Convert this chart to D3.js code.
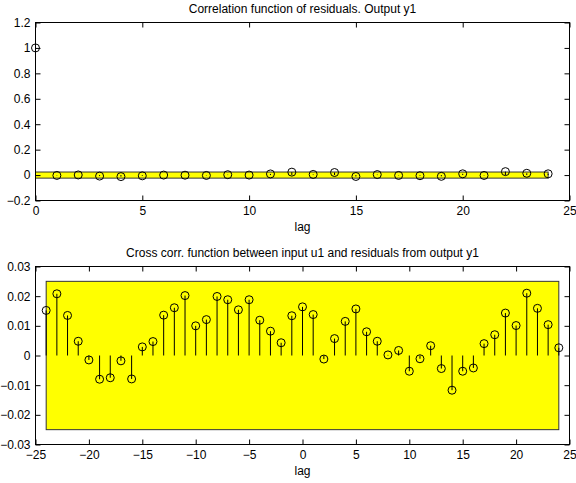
<!doctype html>
<html>
<head>
<meta charset="UTF-8">
<title>residual correlation</title>
<script src="https://cdn.jsdelivr.net/npm/d3@7"></script>
<style>
	body { margin: 0; background: #fff; }
	text { font-family: "Liberation Sans", Arial, sans-serif; font-size: 12px; fill: #000; }
</style>
</head>
<body>
<script>
	// autocorrelation of residuals, lags 0..24
	var autoLags = d3.range(0, 25);
	var autoValues = [1.0, -0.003, 0.001, -0.008, -0.012, -0.006, 0.000, -0.001, -0.003, 0.003,
		0.000, 0.009, 0.023, 0.005, 0.020, -0.011, 0.004, -0.003, -0.005, -0.010,
		0.010, -0.003, 0.027, 0.014, 0.010];
	var autoConf = 0.024;

	// cross correlation input u1 / residuals, lags -24..24
	var crossLags = d3.range(-24, 25);
	var crossValues = [0.0152, 0.0208, 0.0135, 0.0048, -0.0015, -0.0080, -0.0075, -0.0018, -0.0079, 0.0029,
		0.0047, 0.0136, 0.0161, 0.0202, 0.0100, 0.0121, 0.0199, 0.0188, 0.0154, 0.0188,
		0.0119, 0.0082, 0.0043, 0.0134, 0.0164, 0.0138, -0.0012, 0.0057, 0.0115, 0.0157,
		0.0080, 0.0048, 0.0002, 0.0017, -0.0053, -0.0011, 0.0033, -0.0044, -0.0117, -0.0053,
		-0.0042, 0.0040, 0.0070, 0.0143, 0.0101, 0.0210, 0.0159, 0.0104, 0.0026];
	var crossConf = 0.025;

	var autoTicksX = [0, 5, 10, 15, 20, 25];
	var autoTicksY = [-0.2, 0, 0.2, 0.4, 0.6, 0.8, 1, 1.2];
	var crossTicksX = [-25, -20, -15, -10, -5, 0, 5, 10, 15, 20, 25];
	var crossTicksY = [-0.03, -0.02, -0.01, 0, 0.01, 0.02, 0.03];

	var W = 576, H = 483;
	var svg = d3.select('body').append('svg')
		.attr('width', W)
		.attr('height', H);

	var fmt = function(d) {
		var s = String(+d.toFixed(3));
		return s.replace('-', '\u2212');
	};

	/**
	* draw one stem panel
	*/
	var drawPanel = function(opt) {
		var x = d3.scaleLinear().domain(opt.xDomain).range([opt.left, opt.right]);
		var y = d3.scaleLinear().domain(opt.yDomain).range([opt.bottom, opt.top]);
		var g = svg.append('g');

		// confidence band
		g.append('rect')
			.attr('x', x(opt.bandFrom))
			.attr('y', y(opt.conf))
			.attr('width', x(opt.bandTo) - x(opt.bandFrom))
			.attr('height', y(-opt.conf) - y(opt.conf))
			.attr('fill', '#ffff00')
			.attr('stroke', '#333')
			.attr('stroke-width', 1);

		// stems
		g.selectAll('line.stem')
			.data(opt.lags)
			.enter()
			.append('line')
			.attr('class', 'stem')
			.attr('x1', function(d) { return x(d); })
			.attr('x2', function(d) { return x(d); })
			.attr('y1', y(0))
			.attr('y2', function(d, i) { return y(opt.values[i]); })
			.attr('stroke', '#000')
			.attr('stroke-width', 1);

		g.selectAll('circle')
			.data(opt.lags)
			.enter()
			.append('circle')
			.attr('cx', function(d) { return x(d); })
			.attr('cy', function(d, i) { return y(opt.values[i]); })
			.attr('r', 4)
			.attr('fill', 'none')
			.attr('stroke', '#000')
			.attr('stroke-width', 1);

		// axes, ticks inside, on all four sides
		var tl = -5;
		g.append('g')
			.attr('transform', 'translate(0,' + opt.bottom + ')')
			.call(d3.axisBottom(x).tickValues(opt.xTicks).tickSize(tl).tickPadding(6).tickFormat(fmt));
		g.append('g')
			.attr('transform', 'translate(0,' + opt.top + ')')
			.call(d3.axisTop(x).tickValues(opt.xTicks).tickSize(tl).tickFormat(''));
		g.append('g')
			.attr('transform', 'translate(' + opt.left + ',0)')
			.call(d3.axisLeft(y).tickValues(opt.yTicks).tickSize(tl).tickPadding(5).tickFormat(fmt));
		g.append('g')
			.attr('transform', 'translate(' + opt.right + ',0)')
			.call(d3.axisRight(y).tickValues(opt.yTicks).tickSize(tl).tickFormat(''));

		g.selectAll('.domain').remove();
		g.selectAll('.tick line').attr('stroke', '#000');
		g.selectAll('.tick text').style('font-size', '12px').attr('fill', '#000');

		g.append('rect')
			.attr('x', opt.left)
			.attr('y', opt.top)
			.attr('width', opt.right - opt.left)
			.attr('height', opt.bottom - opt.top)
			.attr('fill', 'none')
			.attr('stroke', '#000')
			.attr('stroke-width', 1);

		g.append('text')
			.attr('x', (opt.left + opt.right) / 2)
			.attr('y', opt.top - 9.5)
			.attr('text-anchor', 'middle')
			.text(opt.title);

		g.append('text')
			.attr('x', (opt.left + opt.right) / 2)
			.attr('y', opt.bottom + 30)
			.attr('text-anchor', 'middle')
			.text('lag');
	};

	drawPanel({
		left: 35.5, right: 569.5, top: 22.5, bottom: 200.5,
		xDomain: [0, 25], yDomain: [-0.2, 1.2],
		xTicks: autoTicksX, yTicks: autoTicksY,
		lags: autoLags, values: autoValues,
		conf: autoConf, bandFrom: 0, bandTo: 24,
		title: 'Correlation function of residuals. Output y1'
	});

	drawPanel({
		left: 35.5, right: 569.5, top: 266.5, bottom: 444.5,
		xDomain: [-25, 25], yDomain: [-0.03, 0.03],
		xTicks: crossTicksX, yTicks: crossTicksY,
		lags: crossLags, values: crossValues,
		conf: crossConf, bandFrom: -24, bandTo: 24,
		title: 'Cross corr. function between input u1 and residuals from output y1'
	});
</script>
</body>
</html>
